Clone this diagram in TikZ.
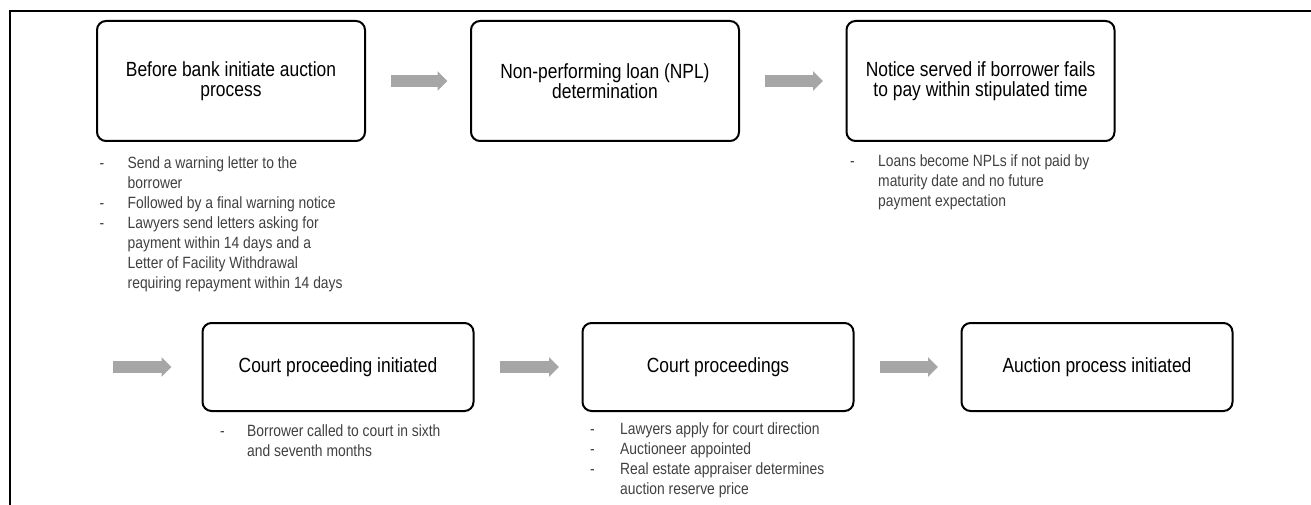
\documentclass[tikz,border=0pt]{standalone}
\usepackage{fontspec}
\usepackage{xcolor}
\usepackage{tikz}
\usetikzlibrary{arrows.meta}

\newfontfamily\narrowsans{Liberation Sans}[FakeStretch=0.85]
\definecolor{arrowgrey}{HTML}{A6A6A6}
\definecolor{notegrey}{HTML}{404040}

\tikzset{
	stepbox/.style={draw, line width=2pt, rounded corners=9pt, align=center,
		inner sep=0pt, outer sep=0pt, font=\narrowsans\fontsize{20.5}{20.5}\selectfont},
	notes/.style={anchor=north west, inner sep=0pt, text=notegrey,
		font=\narrowsans\fontsize{16.3}{20}\selectfont},
	flow/.style={arrowgrey, line width=12pt, -{Triangle[length=10pt,width=19pt]}}
}

\begin{document}
\begin{tikzpicture}[x=1pt, y=-1pt]
	\useasboundingbox (0,0) rectangle (1311,505);
	
	% frame round the figure (top and left only)
	\draw[line width=2.2pt] (10,505) -- (10,11) -- (1311,11);
	
	% first row of steps
	\foreach \name/\xpos/\txt in {b1/231/{Before bank initiate auction\\process},
		b2/605/{Non-performing loan (NPL)\\determination},
		b3/980.5/{Notice served if borrower fails\\to pay within stipulated time}} {
		\node[stepbox, minimum width=268pt, minimum height=120pt] (\name) at (\xpos,81) {\txt};
	}
	
	% second row of steps
	\foreach \name/\xpos/\txt in {b4/338/{Court proceeding initiated},
		b5/718/{Court proceedings},
		b6/1097/{Auction process initiated}} {
		\node[stepbox, minimum width=271pt, minimum height=88pt] (\name) at (\xpos,367) {\txt};
	}
	
	% grey arrows between the steps
	\foreach \from/\to in {b1/b2, b2/b3, b4/b5, b5/b6} {
		\draw[flow] ([xshift=26pt]\from.east) -- ([xshift=-23.5pt]\to.west);
	}
	\coordinate (wrap) at (113,367);
	\draw[flow] (wrap) -- ([xshift=-31pt]b4.west);
	
	% notes under the steps
	\node[notes] (n1) at (99.5,154) {\begin{tabular}{@{}p{28pt}@{}l@{}}
			- & Send a warning letter to the\\
			& borrower\\
			- & Followed by a final warning notice\\
			- & Lawyers send letters asking for\\
			& payment within 14 days and a\\
			& Letter of Facility Withdrawal\\
			& requiring repayment within 14 days
	\end{tabular}};
	\node[notes] (n3) at (850,152) {\begin{tabular}{@{}p{28pt}@{}l@{}}
			- & Loans become NPLs if not paid by\\
			& maturity date and no future\\
			& payment expectation
	\end{tabular}};
	\node[notes] (n4) at (220,422) {\begin{tabular}{@{}p{27pt}@{}l@{}}
			- & Borrower called to court in sixth\\
			& and seventh months
	\end{tabular}};
	\node[notes] (n5) at (590,420) {\begin{tabular}{@{}p{30pt}@{}l@{}}
			- & Lawyers apply for court direction\\
			- & Auctioneer appointed\\
			- & Real estate appraiser determines\\
			& auction reserve price
	\end{tabular}};
\end{tikzpicture}
\end{document}
